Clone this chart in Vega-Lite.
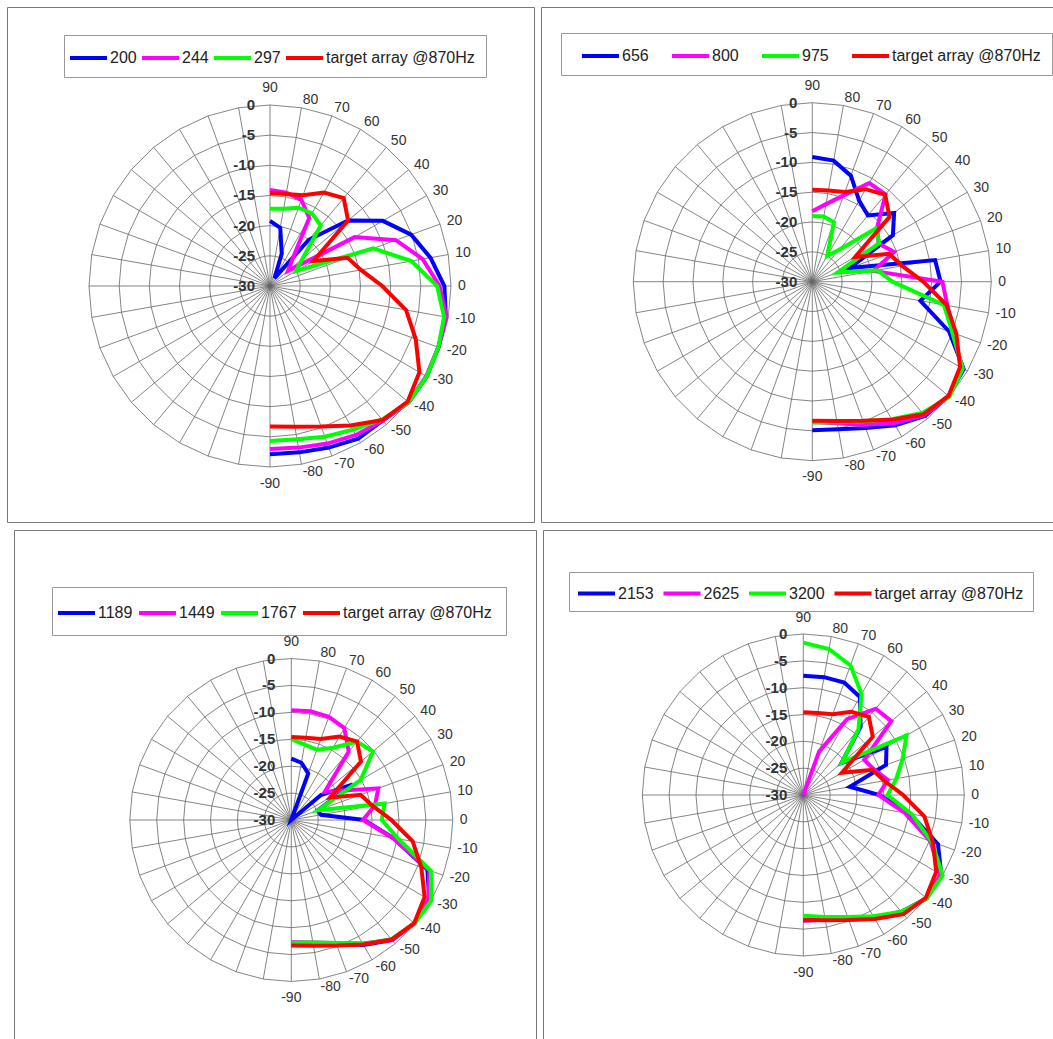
{
"$schema":"https://vega.github.io/schema/vega-lite/v6.json",
"padding":{"left":6,"top":6,"right":0,"bottom":0},
"background":"white",
"config":{"font":"Liberation Sans","view":{"stroke":"#777","strokeWidth":1}},
"datasets":{
"grid":[{"a":0,"rings":[-25,-20,-15,-10,-5,0]},{"a":10,"rings":[-25,-20,-15,-10,-5,0]},{"a":20,"rings":[-25,-20,-15,-10,-5,0]},{"a":30,"rings":[-25,-20,-15,-10,-5,0]},{"a":40,"rings":[-25,-20,-15,-10,-5,0]},{"a":50,"rings":[-25,-20,-15,-10,-5,0]},{"a":60,"rings":[-25,-20,-15,-10,-5,0]},{"a":70,"rings":[-25,-20,-15,-10,-5,0]},{"a":80,"rings":[-25,-20,-15,-10,-5,0]},{"a":90,"rings":[-25,-20,-15,-10,-5,0]},{"a":100,"rings":[-25,-20,-15,-10,-5,0]},{"a":110,"rings":[-25,-20,-15,-10,-5,0]},{"a":120,"rings":[-25,-20,-15,-10,-5,0]},{"a":130,"rings":[-25,-20,-15,-10,-5,0]},{"a":140,"rings":[-25,-20,-15,-10,-5,0]},{"a":150,"rings":[-25,-20,-15,-10,-5,0]},{"a":160,"rings":[-25,-20,-15,-10,-5,0]},{"a":170,"rings":[-25,-20,-15,-10,-5,0]},{"a":180,"rings":[-25,-20,-15,-10,-5,0]},{"a":190,"rings":[-25,-20,-15,-10,-5,0]},{"a":200,"rings":[-25,-20,-15,-10,-5,0]},{"a":210,"rings":[-25,-20,-15,-10,-5,0]},{"a":220,"rings":[-25,-20,-15,-10,-5,0]},{"a":230,"rings":[-25,-20,-15,-10,-5,0]},{"a":240,"rings":[-25,-20,-15,-10,-5,0]},{"a":250,"rings":[-25,-20,-15,-10,-5,0]},{"a":260,"rings":[-25,-20,-15,-10,-5,0]},{"a":270,"rings":[-25,-20,-15,-10,-5,0]},{"a":280,"rings":[-25,-20,-15,-10,-5,0]},{"a":290,"rings":[-25,-20,-15,-10,-5,0]},{"a":300,"rings":[-25,-20,-15,-10,-5,0]},{"a":310,"rings":[-25,-20,-15,-10,-5,0]},{"a":320,"rings":[-25,-20,-15,-10,-5,0]},{"a":330,"rings":[-25,-20,-15,-10,-5,0]},{"a":340,"rings":[-25,-20,-15,-10,-5,0]},{"a":350,"rings":[-25,-20,-15,-10,-5,0]},{"a":360,"rings":[-25,-20,-15,-10,-5,0]}],
"cats":[{"a":90},{"a":80},{"a":70},{"a":60},{"a":50},{"a":40},{"a":30},{"a":20},{"a":10},{"a":0},{"a":-10},{"a":-20},{"a":-30},{"a":-40},{"a":-50},{"a":-60},{"a":-70},{"a":-80},{"a":-90}],
"radial":[{"t":0},{"t":-5},{"t":-10},{"t":-15},{"t":-20},{"t":-25},{"t":-30}],
"target":[{"a":90,"v":-14.6},{"a":80,"v":-14.5},{"a":70,"v":-14.0},{"a":60,"v":-12.1},{"a":50,"v":-11.0},{"a":40,"v":-13.1},{"a":30,"v":-21.7},{"a":20,"v":-16.3},{"a":10,"v":-14.7},{"a":0,"v":-11.4},{"a":-10,"v":-7.1},{"a":-20,"v":-4.3},{"a":-30,"v":-1.4},{"a":-40,"v":-0.2},{"a":-50,"v":-1.0},{"a":-60,"v":-3.3},{"a":-70,"v":-5.2},{"a":-80,"v":-6.3},{"a":-90,"v":-6.7}],
"curves":[
{"p":1,"s":"200","a":90,"v":-19.2},{"p":1,"s":"200","a":80,"v":-20.2},{"p":1,"s":"200","a":70,"v":-24.3},{"p":1,"s":"200","a":60,"v":-28.5},{"p":1,"s":"200","a":50,"v":-20.0},{"p":1,"s":"200","a":40,"v":-13.1},{"p":1,"s":"200","a":30,"v":-8.4},{"p":1,"s":"200","a":20,"v":-5.1},{"p":1,"s":"200","a":10,"v":-3.0},{"p":1,"s":"200","a":0,"v":-1.1},{"p":1,"s":"200","a":-10,"v":-0.4},{"p":1,"s":"200","a":-20,"v":-0.3},{"p":1,"s":"200","a":-30,"v":0},{"p":1,"s":"200","a":-40,"v":0},{"p":1,"s":"200","a":-50,"v":-0.9},{"p":1,"s":"200","a":-60,"v":-0.8},{"p":1,"s":"200","a":-70,"v":-1.5},{"p":1,"s":"200","a":-80,"v":-2.0},{"p":1,"s":"200","a":-90,"v":-2.1},
{"p":1,"s":"244","a":90,"v":-14.1},{"p":1,"s":"244","a":80,"v":-14.3},{"p":1,"s":"244","a":70,"v":-14.8},{"p":1,"s":"244","a":60,"v":-17.0},{"p":1,"s":"244","a":50,"v":-24.2},{"p":1,"s":"244","a":40,"v":-26.1},{"p":1,"s":"244","a":30,"v":-13.8},{"p":1,"s":"244","a":20,"v":-7.8},{"p":1,"s":"244","a":10,"v":-4.3},{"p":1,"s":"244","a":0,"v":-1.9},{"p":1,"s":"244","a":-10,"v":-0.3},{"p":1,"s":"244","a":-20,"v":-0.3},{"p":1,"s":"244","a":-30,"v":-0.1},{"p":1,"s":"244","a":-40,"v":0},{"p":1,"s":"244","a":-50,"v":-0.9},{"p":1,"s":"244","a":-60,"v":-1.5},{"p":1,"s":"244","a":-70,"v":-2.2},{"p":1,"s":"244","a":-80,"v":-2.8},{"p":1,"s":"244","a":-90,"v":-3.0},
{"p":1,"s":"297","a":90,"v":-17.2},{"p":1,"s":"297","a":80,"v":-17.0},{"p":1,"s":"297","a":70,"v":-16.2},{"p":1,"s":"297","a":60,"v":-16.1},{"p":1,"s":"297","a":50,"v":-16.9},{"p":1,"s":"297","a":40,"v":-23.0},{"p":1,"s":"297","a":30,"v":-25.0},{"p":1,"s":"297","a":20,"v":-11.8},{"p":1,"s":"297","a":10,"v":-6.2},{"p":1,"s":"297","a":0,"v":-2.3},{"p":1,"s":"297","a":-10,"v":-0.7},{"p":1,"s":"297","a":-20,"v":-0.3},{"p":1,"s":"297","a":-30,"v":0},{"p":1,"s":"297","a":-40,"v":0},{"p":1,"s":"297","a":-50,"v":-1.1},{"p":1,"s":"297","a":-60,"v":-2.5},{"p":1,"s":"297","a":-70,"v":-3.4},{"p":1,"s":"297","a":-80,"v":-4.2},{"p":1,"s":"297","a":-90,"v":-4.3},
{"p":2,"s":"656","a":90,"v":-9.1},{"p":2,"s":"656","a":80,"v":-9.4},{"p":2,"s":"656","a":70,"v":-11.1},{"p":2,"s":"656","a":60,"v":-14.3},{"p":2,"s":"656","a":50,"v":-15.5},{"p":2,"s":"656","a":40,"v":-12.1},{"p":2,"s":"656","a":30,"v":-14.4},{"p":2,"s":"656","a":20,"v":-23.3},{"p":2,"s":"656","a":10,"v":-9.1},{"p":2,"s":"656","a":0,"v":-8.5},{"p":2,"s":"656","a":-10,"v":-11.6},{"p":2,"s":"656","a":-20,"v":-5.6},{"p":2,"s":"656","a":-30,"v":-0.7},{"p":2,"s":"656","a":-40,"v":-0.2},{"p":2,"s":"656","a":-50,"v":-0.6},{"p":2,"s":"656","a":-60,"v":-2.2},{"p":2,"s":"656","a":-70,"v":-3.9},{"p":2,"s":"656","a":-80,"v":-4.9},{"p":2,"s":"656","a":-90,"v":-5.1},
{"p":2,"s":"800","a":90,"v":-18.2},{"p":2,"s":"800","a":80,"v":-16.8},{"p":2,"s":"800","a":70,"v":-14.6},{"p":2,"s":"800","a":60,"v":-10.9},{"p":2,"s":"800","a":50,"v":-10.9},{"p":2,"s":"800","a":40,"v":-15.8},{"p":2,"s":"800","a":30,"v":-17.2},{"p":2,"s":"800","a":20,"v":-15.4},{"p":2,"s":"800","a":10,"v":-19.6},{"p":2,"s":"800","a":0,"v":-8.2},{"p":2,"s":"800","a":-10,"v":-7.0},{"p":2,"s":"800","a":-20,"v":-5.0},{"p":2,"s":"800","a":-30,"v":-0.9},{"p":2,"s":"800","a":-40,"v":-0.1},{"p":2,"s":"800","a":-50,"v":-0.8},{"p":2,"s":"800","a":-60,"v":-2.6},{"p":2,"s":"800","a":-70,"v":-4.5},{"p":2,"s":"800","a":-80,"v":-5.9},{"p":2,"s":"800","a":-90,"v":-6.5},
{"p":2,"s":"975","a":90,"v":-19.0},{"p":2,"s":"975","a":80,"v":-18.9},{"p":2,"s":"975","a":70,"v":-19.4},{"p":2,"s":"975","a":60,"v":-25.0},{"p":2,"s":"975","a":50,"v":-23.0},{"p":2,"s":"975","a":40,"v":-16.2},{"p":2,"s":"975","a":30,"v":-17.0},{"p":2,"s":"975","a":20,"v":-25.5},{"p":2,"s":"975","a":10,"v":-18.9},{"p":2,"s":"975","a":0,"v":-16.6},{"p":2,"s":"975","a":-10,"v":-7.6},{"p":2,"s":"975","a":-20,"v":-5.0},{"p":2,"s":"975","a":-30,"v":-0.9},{"p":2,"s":"975","a":-40,"v":0},{"p":2,"s":"975","a":-50,"v":-1.3},{"p":2,"s":"975","a":-60,"v":-3.4},{"p":2,"s":"975","a":-70,"v":-5.1},{"p":2,"s":"975","a":-80,"v":-6.1},{"p":2,"s":"975","a":-90,"v":-6.4},
{"p":3,"s":"1189","a":90,"v":-18.6},{"p":3,"s":"1189","a":80,"v":-19.2},{"p":3,"s":"1189","a":70,"v":-20.8},{"p":3,"s":"1189","a":60,"v":-30},{"p":3,"s":"1189","a":50,"v":-30},{"p":3,"s":"1189","a":40,"v":-22.8},{"p":3,"s":"1189","a":30,"v":-16.8},{"p":3,"s":"1189","a":20,"v":-24.8},{"p":3,"s":"1189","a":10,"v":-24.4},{"p":3,"s":"1189","a":0,"v":-16.5},{"p":3,"s":"1189","a":-10,"v":-10.8},{"p":3,"s":"1189","a":-20,"v":-3.1},{"p":3,"s":"1189","a":-30,"v":-0.4},{"p":3,"s":"1189","a":-40,"v":-0.1},{"p":3,"s":"1189","a":-50,"v":-0.9},{"p":3,"s":"1189","a":-60,"v":-3.2},{"p":3,"s":"1189","a":-70,"v":-5.5},{"p":3,"s":"1189","a":-80,"v":-6.8},{"p":3,"s":"1189","a":-90,"v":-7.2},
{"p":3,"s":"1449","a":90,"v":-9.6},{"p":3,"s":"1449","a":80,"v":-9.5},{"p":3,"s":"1449","a":70,"v":-9.6},{"p":3,"s":"1449","a":60,"v":-10.3},{"p":3,"s":"1449","a":50,"v":-13.4},{"p":3,"s":"1449","a":40,"v":-21.9},{"p":3,"s":"1449","a":30,"v":-19.0},{"p":3,"s":"1449","a":20,"v":-12.8},{"p":3,"s":"1449","a":10,"v":-14.2},{"p":3,"s":"1449","a":0,"v":-16.7},{"p":3,"s":"1449","a":-10,"v":-10.8},{"p":3,"s":"1449","a":-20,"v":-2.7},{"p":3,"s":"1449","a":-30,"v":-0.6},{"p":3,"s":"1449","a":-40,"v":-0.1},{"p":3,"s":"1449","a":-50,"v":-0.9},{"p":3,"s":"1449","a":-60,"v":-3.5},{"p":3,"s":"1449","a":-70,"v":-5.7},{"p":3,"s":"1449","a":-80,"v":-6.9},{"p":3,"s":"1449","a":-90,"v":-7.3},
{"p":3,"s":"1767","a":90,"v":-15.0},{"p":3,"s":"1767","a":80,"v":-15.8},{"p":3,"s":"1767","a":70,"v":-16.1},{"p":3,"s":"1767","a":60,"v":-14.5},{"p":3,"s":"1767","a":50,"v":-11.0},{"p":3,"s":"1767","a":40,"v":-10.2},{"p":3,"s":"1767","a":30,"v":-15.1},{"p":3,"s":"1767","a":20,"v":-24.7},{"p":3,"s":"1767","a":10,"v":-12.4},{"p":3,"s":"1767","a":0,"v":-13.2},{"p":3,"s":"1767","a":-10,"v":-9.8},{"p":3,"s":"1767","a":-20,"v":-2.4},{"p":3,"s":"1767","a":-30,"v":0},{"p":3,"s":"1767","a":-40,"v":-0.1},{"p":3,"s":"1767","a":-50,"v":-1.1},{"p":3,"s":"1767","a":-60,"v":-3.4},{"p":3,"s":"1767","a":-70,"v":-5.7},{"p":3,"s":"1767","a":-80,"v":-6.9},{"p":3,"s":"1767","a":-90,"v":-7.2},
{"p":4,"s":"2153","a":90,"v":-7.8},{"p":4,"s":"2153","a":80,"v":-7.7},{"p":4,"s":"2153","a":70,"v":-7.7},{"p":4,"s":"2153","a":60,"v":-8.9},{"p":4,"s":"2153","a":50,"v":-13.4},{"p":4,"s":"2153","a":40,"v":-20.7},{"p":4,"s":"2153","a":30,"v":-12.1},{"p":4,"s":"2153","a":20,"v":-13.6},{"p":4,"s":"2153","a":10,"v":-21.2},{"p":4,"s":"2153","a":0,"v":-15.8},{"p":4,"s":"2153","a":-10,"v":-9.8},{"p":4,"s":"2153","a":-20,"v":-3.3},{"p":4,"s":"2153","a":-30,"v":-0.3},{"p":4,"s":"2153","a":-40,"v":0},{"p":4,"s":"2153","a":-50,"v":-1.6},{"p":4,"s":"2153","a":-60,"v":-3.6},{"p":4,"s":"2153","a":-70,"v":-5.5},{"p":4,"s":"2153","a":-80,"v":-6.4},{"p":4,"s":"2153","a":-90,"v":-6.6},
{"p":4,"s":"2625","a":90,"v":-30},{"p":4,"s":"2625","a":80,"v":-30},{"p":4,"s":"2625","a":70,"v":-21.4},{"p":4,"s":"2625","a":60,"v":-13.7},{"p":4,"s":"2625","a":50,"v":-9.0},{"p":4,"s":"2625","a":40,"v":-8.6},{"p":4,"s":"2625","a":30,"v":-16.9},{"p":4,"s":"2625","a":20,"v":-16.0},{"p":4,"s":"2625","a":10,"v":-14.0},{"p":4,"s":"2625","a":0,"v":-16.0},{"p":4,"s":"2625","a":-10,"v":-10.8},{"p":4,"s":"2625","a":-20,"v":-4.8},{"p":4,"s":"2625","a":-30,"v":-0.5},{"p":4,"s":"2625","a":-40,"v":-0.1},{"p":4,"s":"2625","a":-50,"v":-1.5},{"p":4,"s":"2625","a":-60,"v":-3.6},{"p":4,"s":"2625","a":-70,"v":-5.5},{"p":4,"s":"2625","a":-80,"v":-6.4},{"p":4,"s":"2625","a":-90,"v":-6.6},
{"p":4,"s":"3200","a":90,"v":-1.6},{"p":4,"s":"3200","a":80,"v":-2.4},{"p":4,"s":"3200","a":70,"v":-4.3},{"p":4,"s":"3200","a":60,"v":-8.3},{"p":4,"s":"3200","a":50,"v":-14.0},{"p":4,"s":"3200","a":40,"v":-20.6},{"p":4,"s":"3200","a":30,"v":-7.8},{"p":4,"s":"3200","a":20,"v":-10.3},{"p":4,"s":"3200","a":10,"v":-12.4},{"p":4,"s":"3200","a":0,"v":-14.3},{"p":4,"s":"3200","a":-10,"v":-9.5},{"p":4,"s":"3200","a":-20,"v":-4.5},{"p":4,"s":"3200","a":-30,"v":0},{"p":4,"s":"3200","a":-40,"v":0},{"p":4,"s":"3200","a":-50,"v":-1.6},{"p":4,"s":"3200","a":-60,"v":-3.9},{"p":4,"s":"3200","a":-70,"v":-5.8},{"p":4,"s":"3200","a":-80,"v":-6.9},{"p":4,"s":"3200","a":-90,"v":-7.5}
]
},
"spacing":6,
"resolve":{"scale":{"color":"independent","x":"independent","y":"independent"},"legend":{"color":"independent"}},
"vconcat":[
{"spacing":5,
"resolve":{"scale":{"color":"independent","x":"independent","y":"independent"},"legend":{"color":"independent"}},
"hconcat":[
{"width":527,"height":515,
"encoding":{"x":{"field":"x","type":"quantitative","scale":{"domain":[-1.4530,1.4586],"nice":false,"zero":false},"axis":null},"y":{"field":"y","type":"quantitative","scale":{"domain":[-1.3039,1.5414],"nice":false,"zero":false},"axis":null}},
"layer":[
{"data":{"name":"grid"},"transform":[{"flatten":["rings"]},{"calculate":"(datum.rings+30)/30*cos(datum.a*PI/180)","as":"x"},{"calculate":"(datum.rings+30)/30*sin(datum.a*PI/180)","as":"y"}],"mark":{"type":"line","stroke":"#666","strokeWidth":0.8},"encoding":{"detail":{"field":"rings","type":"nominal"},"order":{"field":"a","type":"quantitative"}}},
{"data":{"name":"grid"},"transform":[{"filter":"datum.a < 360"},{"calculate":"0","as":"x"},{"calculate":"0","as":"y"},{"calculate":"cos(datum.a*PI/180)","as":"x2"},{"calculate":"sin(datum.a*PI/180)","as":"y2"}],"mark":{"type":"rule","stroke":"#666","strokeWidth":0.8},"encoding":{"x2":{"field":"x2"},"y2":{"field":"y2"}}},
{"data":{"name":"cats"},"transform":[{"filter":"abs(datum.a) < 90"},{"calculate":"1.0387*cos(datum.a*PI/180)","as":"x"},{"calculate":"1.0442*sin(datum.a*PI/180)","as":"y"}],"mark":{"type":"text","align":"left","fontSize":14,"color":"#333"},"encoding":{"text":{"field":"a","type":"nominal"}}},
{"data":{"name":"cats"},"transform":[{"filter":"abs(datum.a) == 90"},{"calculate":"0","as":"x"},{"calculate":"1.0912*sin(datum.a*PI/180)","as":"y"}],"mark":{"type":"text","align":"center","fontSize":14,"color":"#333"},"encoding":{"text":{"field":"a","type":"nominal"}}},
{"data":{"name":"radial"},"transform":[{"calculate":"0","as":"x"},{"calculate":"(datum.t+30)/30","as":"y"}],"mark":{"type":"text","align":"right","dx":-15,"fontSize":15,"fontWeight":"bold","color":"#333"},"encoding":{"text":{"field":"t","type":"nominal"}}},
{"data":{"name":"curves"},"transform":[{"filter":"datum.p == 1"},{"calculate":"(datum.v+30)/30*cos(datum.a*PI/180)","as":"x"},{"calculate":"(datum.v+30)/30*sin(datum.a*PI/180)","as":"y"}],"mark":{"type":"line","strokeWidth":4},"encoding":{"color":{"field":"s","type":"nominal","scale":{"domain":["200","244","297","target array @870Hz"],"range":["#0000ff","#ff00ff","#00ff00","#ff0000"]},"legend":{"orient":"none","legendX":57,"legendY":28,"direction":"horizontal","columns":4,"title":null,"symbolType":"M-1.85,0L1.85,0","symbolSize":400,"symbolStrokeWidth":4,"symbolOffset":1.5,"labelFontSize":16,"labelColor":"#222","labelOffset":9.5,"columnPadding":-3,"padding":11,"strokeColor":"#999","fillColor":"#fff","labelLimit":400}},"order":{"field":"a","type":"quantitative"}}},
{"data":{"name":"target"},"transform":[{"calculate":"(datum.v+30)/30*cos(datum.a*PI/180)","as":"x"},{"calculate":"(datum.v+30)/30*sin(datum.a*PI/180)","as":"y"}],"mark":{"type":"line","strokeWidth":4,"color":"#ff0000"},"encoding":{"order":{"field":"a","type":"quantitative"}}}
]},
{"width":520,"height":515,
"encoding":{"x":{"field":"x","type":"quantitative","scale":{"domain":[-1.5156,1.3894],"nice":false,"zero":false},"axis":null},"y":{"field":"y","type":"quantitative","scale":{"domain":[-1.3425,1.5346],"nice":false,"zero":false},"axis":null}},
"layer":[
{"data":{"name":"grid"},"transform":[{"flatten":["rings"]},{"calculate":"(datum.rings+30)/30*cos(datum.a*PI/180)","as":"x"},{"calculate":"(datum.rings+30)/30*sin(datum.a*PI/180)","as":"y"}],"mark":{"type":"line","stroke":"#666","strokeWidth":0.8},"encoding":{"detail":{"field":"rings","type":"nominal"},"order":{"field":"a","type":"quantitative"}}},
{"data":{"name":"grid"},"transform":[{"filter":"datum.a < 360"},{"calculate":"0","as":"x"},{"calculate":"0","as":"y"},{"calculate":"cos(datum.a*PI/180)","as":"x2"},{"calculate":"sin(datum.a*PI/180)","as":"y2"}],"mark":{"type":"rule","stroke":"#666","strokeWidth":0.8},"encoding":{"x2":{"field":"x2"},"y2":{"field":"y2"}}},
{"data":{"name":"cats"},"transform":[{"filter":"abs(datum.a) < 90"},{"calculate":"1.0391*cos(datum.a*PI/180)","as":"x"},{"calculate":"1.0447*sin(datum.a*PI/180)","as":"y"}],"mark":{"type":"text","align":"left","fontSize":14,"color":"#333"},"encoding":{"text":{"field":"a","type":"nominal"}}},
{"data":{"name":"cats"},"transform":[{"filter":"abs(datum.a) == 90"},{"calculate":"0","as":"x"},{"calculate":"1.0922*sin(datum.a*PI/180)","as":"y"}],"mark":{"type":"text","align":"center","fontSize":14,"color":"#333"},"encoding":{"text":{"field":"a","type":"nominal"}}},
{"data":{"name":"radial"},"transform":[{"calculate":"0","as":"x"},{"calculate":"(datum.t+30)/30","as":"y"}],"mark":{"type":"text","align":"right","dx":-15,"fontSize":15,"fontWeight":"bold","color":"#333"},"encoding":{"text":{"field":"t","type":"nominal"}}},
{"data":{"name":"curves"},"transform":[{"filter":"datum.p == 2"},{"calculate":"(datum.v+30)/30*cos(datum.a*PI/180)","as":"x"},{"calculate":"(datum.v+30)/30*sin(datum.a*PI/180)","as":"y"}],"mark":{"type":"line","strokeWidth":4},"encoding":{"color":{"field":"s","type":"nominal","scale":{"domain":["656","800","975","target array @870Hz"],"range":["#0000ff","#ff00ff","#00ff00","#ff0000"]},"legend":{"orient":"none","legendX":20,"legendY":26,"direction":"horizontal","columns":4,"title":null,"symbolType":"M-1.85,0L1.85,0","symbolSize":400,"symbolStrokeWidth":4,"symbolOffset":16.5,"labelFontSize":16,"labelColor":"#222","labelOffset":9.5,"columnPadding":13,"padding":11,"strokeColor":"#999","fillColor":"#fff","labelLimit":400}},"order":{"field":"a","type":"quantitative"}}},
{"data":{"name":"target"},"transform":[{"calculate":"(datum.v+30)/30*cos(datum.a*PI/180)","as":"x"},{"calculate":"(datum.v+30)/30*sin(datum.a*PI/180)","as":"y"}],"mark":{"type":"line","strokeWidth":4,"color":"#ff0000"},"encoding":{"order":{"field":"a","type":"quantitative"}}}
]}
]},
{"spacing":5,
"resolve":{"scale":{"color":"independent","x":"independent","y":"independent"},"legend":{"color":"independent"}},
"hconcat":[
{"width":1,"height":515,"view":{"stroke":null},"data":{"values":[]},"mark":{"type":"point","opacity":0},"encoding":{}},
{"width":522,"height":515,
"encoding":{"x":{"field":"x","type":"quantitative","scale":{"domain":[-1.7170,1.5152],"nice":false,"zero":false},"axis":null},"y":{"field":"y","type":"quantitative","scale":{"domain":[-1.3932,1.7957],"nice":false,"zero":false},"axis":null}},
"layer":[
{"data":{"name":"grid"},"transform":[{"flatten":["rings"]},{"calculate":"(datum.rings+30)/30*cos(datum.a*PI/180)","as":"x"},{"calculate":"(datum.rings+30)/30*sin(datum.a*PI/180)","as":"y"}],"mark":{"type":"line","stroke":"#666","strokeWidth":0.8},"encoding":{"detail":{"field":"rings","type":"nominal"},"order":{"field":"a","type":"quantitative"}}},
{"data":{"name":"grid"},"transform":[{"filter":"datum.a < 360"},{"calculate":"0","as":"x"},{"calculate":"0","as":"y"},{"calculate":"cos(datum.a*PI/180)","as":"x2"},{"calculate":"sin(datum.a*PI/180)","as":"y2"}],"mark":{"type":"rule","stroke":"#666","strokeWidth":0.8},"encoding":{"x2":{"field":"x2"},"y2":{"field":"y2"}}},
{"data":{"name":"cats"},"transform":[{"filter":"abs(datum.a) < 90"},{"calculate":"1.0433*cos(datum.a*PI/180)","as":"x"},{"calculate":"1.0495*sin(datum.a*PI/180)","as":"y"}],"mark":{"type":"text","align":"left","fontSize":14,"color":"#333"},"encoding":{"text":{"field":"a","type":"nominal"}}},
{"data":{"name":"cats"},"transform":[{"filter":"abs(datum.a) == 90"},{"calculate":"0","as":"x"},{"calculate":"1.1022*sin(datum.a*PI/180)","as":"y"}],"mark":{"type":"text","align":"center","fontSize":14,"color":"#333"},"encoding":{"text":{"field":"a","type":"nominal"}}},
{"data":{"name":"radial"},"transform":[{"calculate":"0","as":"x"},{"calculate":"(datum.t+30)/30","as":"y"}],"mark":{"type":"text","align":"right","dx":-16,"fontSize":15,"fontWeight":"bold","color":"#333"},"encoding":{"text":{"field":"t","type":"nominal"}}},
{"data":{"name":"curves"},"transform":[{"filter":"datum.p == 3"},{"calculate":"(datum.v+30)/30*cos(datum.a*PI/180)","as":"x"},{"calculate":"(datum.v+30)/30*sin(datum.a*PI/180)","as":"y"}],"mark":{"type":"line","strokeWidth":4},"encoding":{"color":{"field":"s","type":"nominal","scale":{"domain":["1189","1449","1767","target array @870Hz"],"range":["#0000ff","#ff00ff","#00ff00","#ff0000"]},"legend":{"orient":"none","legendX":38,"legendY":57,"direction":"horizontal","columns":4,"title":null,"symbolType":"M-1.85,0L1.85,0","symbolSize":400,"symbolStrokeWidth":4,"symbolOffset":-1.5,"labelFontSize":16,"labelColor":"#222","labelOffset":9.5,"columnPadding":-2,"padding":14,"strokeColor":"#999","fillColor":"#fff","labelLimit":400}},"order":{"field":"a","type":"quantitative"}}},
{"data":{"name":"target"},"transform":[{"calculate":"(datum.v+30)/30*cos(datum.a*PI/180)","as":"x"},{"calculate":"(datum.v+30)/30*sin(datum.a*PI/180)","as":"y"}],"mark":{"type":"line","strokeWidth":4,"color":"#ff0000"},"encoding":{"order":{"field":"a","type":"quantitative"}}}
]},
{"width":520,"height":515,
"encoding":{"x":{"field":"x","type":"quantitative","scale":{"domain":[-1.6168,1.6130],"nice":false,"zero":false},"axis":null},"y":{"field":"y","type":"quantitative","scale":{"domain":[-1.5528,1.6460],"nice":false,"zero":false},"axis":null}},
"layer":[
{"data":{"name":"grid"},"transform":[{"flatten":["rings"]},{"calculate":"(datum.rings+30)/30*cos(datum.a*PI/180)","as":"x"},{"calculate":"(datum.rings+30)/30*sin(datum.a*PI/180)","as":"y"}],"mark":{"type":"line","stroke":"#666","strokeWidth":0.8},"encoding":{"detail":{"field":"rings","type":"nominal"},"order":{"field":"a","type":"quantitative"}}},
{"data":{"name":"grid"},"transform":[{"filter":"datum.a < 360"},{"calculate":"0","as":"x"},{"calculate":"0","as":"y"},{"calculate":"cos(datum.a*PI/180)","as":"x2"},{"calculate":"sin(datum.a*PI/180)","as":"y2"}],"mark":{"type":"rule","stroke":"#666","strokeWidth":0.8},"encoding":{"x2":{"field":"x2"},"y2":{"field":"y2"}}},
{"data":{"name":"cats"},"transform":[{"filter":"abs(datum.a) < 90"},{"calculate":"1.0435*cos(datum.a*PI/180)","as":"x"},{"calculate":"1.0497*sin(datum.a*PI/180)","as":"y"}],"mark":{"type":"text","align":"left","fontSize":14,"color":"#333"},"encoding":{"text":{"field":"a","type":"nominal"}}},
{"data":{"name":"cats"},"transform":[{"filter":"abs(datum.a) == 90"},{"calculate":"0","as":"x"},{"calculate":"1.1025*sin(datum.a*PI/180)","as":"y"}],"mark":{"type":"text","align":"center","fontSize":14,"color":"#333"},"encoding":{"text":{"field":"a","type":"nominal"}}},
{"data":{"name":"radial"},"transform":[{"calculate":"0","as":"x"},{"calculate":"(datum.t+30)/30","as":"y"}],"mark":{"type":"text","align":"right","dx":-16,"fontSize":15,"fontWeight":"bold","color":"#333"},"encoding":{"text":{"field":"t","type":"nominal"}}},
{"data":{"name":"curves"},"transform":[{"filter":"datum.p == 4"},{"calculate":"(datum.v+30)/30*cos(datum.a*PI/180)","as":"x"},{"calculate":"(datum.v+30)/30*sin(datum.a*PI/180)","as":"y"}],"mark":{"type":"line","strokeWidth":4},"encoding":{"color":{"field":"s","type":"nominal","scale":{"domain":["2153","2625","3200","target array @870Hz"],"range":["#0000ff","#ff00ff","#00ff00","#ff0000"]},"legend":{"orient":"none","legendX":26,"legendY":42,"direction":"horizontal","columns":4,"title":null,"symbolType":"M-1.85,0L1.85,0","symbolSize":400,"symbolStrokeWidth":4,"symbolOffset":6,"labelFontSize":16,"labelColor":"#222","labelOffset":9.5,"columnPadding":0.5,"padding":9.5,"strokeColor":"#999","fillColor":"#fff","labelLimit":400}},"order":{"field":"a","type":"quantitative"}}},
{"data":{"name":"target"},"transform":[{"calculate":"(datum.v+30)/30*cos(datum.a*PI/180)","as":"x"},{"calculate":"(datum.v+30)/30*sin(datum.a*PI/180)","as":"y"}],"mark":{"type":"line","strokeWidth":4,"color":"#ff0000"},"encoding":{"order":{"field":"a","type":"quantitative"}}}
]}
]}
]
}
